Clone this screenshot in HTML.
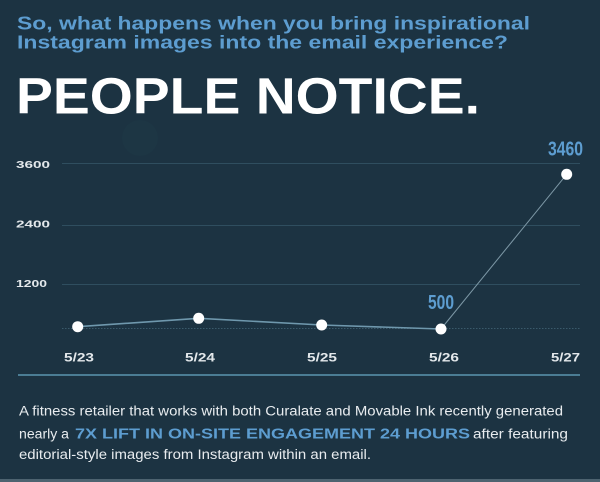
<!DOCTYPE html>
<html>
<head>
<meta charset="utf-8">
<style>
html,body{margin:0;padding:0;background:#1c3342;}
svg{display:block;}
</style>
</head>
<body>
<svg width="600" height="482" viewBox="0 0 600 482" xmlns="http://www.w3.org/2000/svg">
  <rect x="0" y="0" width="600" height="482" fill="#1c3342"/>
  <circle cx="140" cy="138" r="18" fill="#1e3746" opacity="0.7"/>
  <rect x="0" y="479" width="600" height="3" fill="#4d6370"/>

  <!-- Header -->
  <text x="17" y="29.5" font-family="Liberation Sans, sans-serif" font-weight="bold" font-size="18.5" fill="#5d9dd0" textLength="513" lengthAdjust="spacingAndGlyphs">So, what happens when you bring inspirational</text>
  <text x="17" y="48.5" font-family="Liberation Sans, sans-serif" font-weight="bold" font-size="18.5" fill="#5d9dd0" textLength="491" lengthAdjust="spacingAndGlyphs">Instagram images into the email experience?</text>
  <text x="16" y="113.5" font-family="Liberation Sans, sans-serif" font-weight="bold" font-size="51" fill="#ffffff" textLength="464" lengthAdjust="spacingAndGlyphs">PEOPLE NOTICE.</text>

  <!-- Gridlines -->
  <line x1="62" y1="163.5" x2="580" y2="163.5" stroke="#2f4e5f" stroke-width="1"/>
  <line x1="62" y1="225.5" x2="580" y2="225.5" stroke="#2f4e5f" stroke-width="1"/>
  <line x1="62" y1="284.5" x2="580" y2="284.5" stroke="#2f4e5f" stroke-width="1"/>
  <line x1="62" y1="328.5" x2="580" y2="328.5" stroke="#3a5a6b" stroke-width="1" stroke-dasharray="1.5,1.5"/>

  <!-- Y labels -->
  <g font-family="Liberation Sans, sans-serif" font-weight="bold" font-size="10.5" fill="#e3e8eb">
    <text x="16" y="168" textLength="34" lengthAdjust="spacingAndGlyphs">3600</text>
    <text x="16" y="227.7" textLength="34" lengthAdjust="spacingAndGlyphs">2400</text>
    <text x="16" y="287" textLength="31" lengthAdjust="spacingAndGlyphs">1200</text>
  </g>

  <!-- Series -->
  <polyline points="77.7,326.7 198.7,318.3 321.7,325 441,329" fill="none" stroke="#6f98ad" stroke-width="1.6"/>
  <line x1="441" y1="329" x2="566.7" y2="174.3" stroke="#7d98a6" stroke-width="1"/>
  <g fill="#ffffff">
    <circle cx="77.7" cy="326.7" r="5.5"/>
    <circle cx="198.7" cy="318.3" r="5.5"/>
    <circle cx="321.7" cy="325" r="5.5"/>
    <circle cx="441" cy="329" r="5.5"/>
    <circle cx="566.7" cy="174.3" r="5.5"/>
  </g>

  <!-- Value labels -->
  <g font-family="Liberation Sans, sans-serif" font-weight="bold" font-size="20" fill="#5d9dd0">
    <text x="548" y="155.7" textLength="35" lengthAdjust="spacingAndGlyphs">3460</text>
    <text x="428" y="309" textLength="26" lengthAdjust="spacingAndGlyphs">500</text>
  </g>

  <!-- X labels -->
  <g font-family="Liberation Sans, sans-serif" font-weight="bold" font-size="12" fill="#e3e8eb">
    <text x="64" y="361.7" textLength="30" lengthAdjust="spacingAndGlyphs">5/23</text>
    <text x="185" y="361.7" textLength="30" lengthAdjust="spacingAndGlyphs">5/24</text>
    <text x="307" y="361.7" textLength="30" lengthAdjust="spacingAndGlyphs">5/25</text>
    <text x="429" y="361.7" textLength="30" lengthAdjust="spacingAndGlyphs">5/26</text>
    <text x="551" y="361.7" textLength="29" lengthAdjust="spacingAndGlyphs">5/27</text>
  </g>

  <!-- Bottom axis line -->
  <line x1="18" y1="375" x2="580" y2="375" stroke="#4b7d94" stroke-width="2"/>

  <!-- Paragraph -->
  <g font-family="Liberation Sans, sans-serif" font-size="13.5" fill="#e8ecef">
    <text x="19" y="415.7" textLength="544" lengthAdjust="spacingAndGlyphs">A fitness retailer that works with both Curalate and Movable Ink recently generated</text>
    <text x="19" y="438.3" textLength="50" lengthAdjust="spacingAndGlyphs">nearly a</text>
    <text x="75" y="438.3" font-weight="bold" font-size="14.5" fill="#5d9dd0" textLength="395" lengthAdjust="spacingAndGlyphs">7X LIFT IN ON-SITE ENGAGEMENT 24 HOURS</text>
    <text x="473" y="438.3" textLength="95" lengthAdjust="spacingAndGlyphs">after featuring</text>
    <text x="19" y="459" textLength="352" lengthAdjust="spacingAndGlyphs">editorial-style images from Instagram within an email.</text>
  </g>
</svg>
</body>
</html>
